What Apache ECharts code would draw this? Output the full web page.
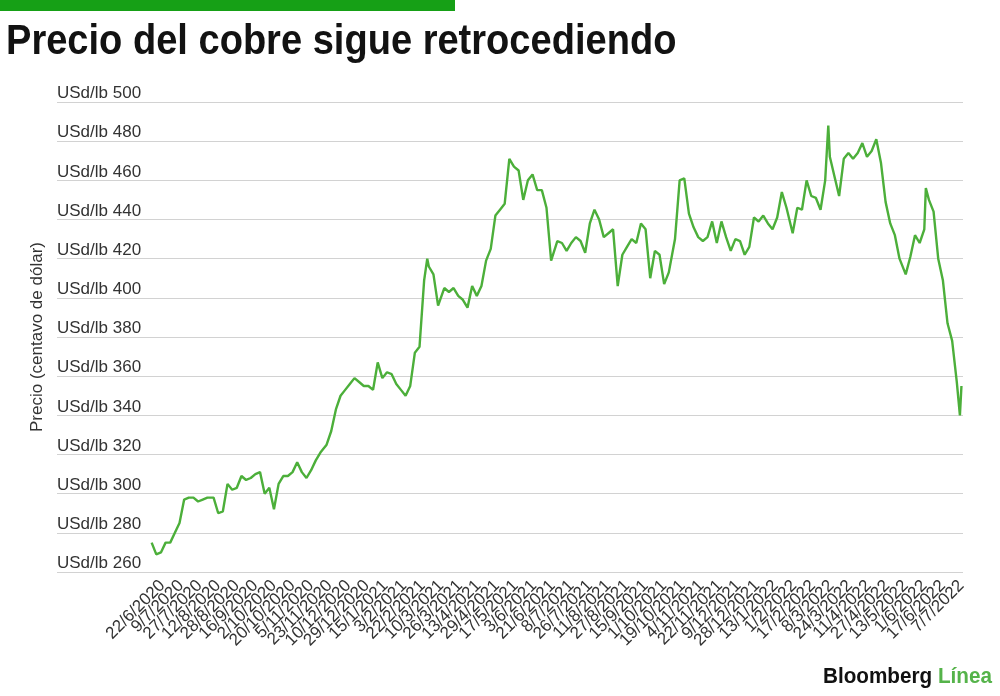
<!DOCTYPE html>
<html>
<head>
<meta charset="utf-8">
<script src="https://cdn.jsdelivr.net/npm/echarts@6/dist/echarts.min.js"></script>
<style>
html,body{margin:0;padding:0;background:#fff;}
#chart{width:1000px;height:696px;}
</style>
</head>
<body>
<div id="chart"></div>
<script>
const FONT = '"Liberation Sans", Arial, sans-serif';

const titleText = 'Precio del cobre sigue retrocediendo';
const yAxisTitle = 'Precio (centavo de dólar)';
const yLabelPrefix = 'USd/lb ';

// x-axis tick labels (one every 12 trading days, first at trading day 0)
const dateLabels = [
  '22/6/2020','9/7/2020','27/7/2020','12/8/2020','28/8/2020','16/9/2020','2/10/2020','20/10/2020',
  '5/11/2020','23/11/2020','10/12/2020','29/12/2020','15/1/2021','3/2/2021','22/2/2021','10/3/2021',
  '26/3/2021','13/4/2021','29/4/2021','17/5/2021','3/6/2021','21/6/2021','8/7/2021','26/7/2021',
  '11/8/2021','27/8/2021','15/9/2021','1/10/2021','19/10/2021','4/11/2021','22/11/2021','9/12/2021',
  '28/12/2021','13/1/2022','1/2/2022','17/2/2022','8/3/2022','24/3/2022','11/4/2022','27/4/2022',
  '13/5/2022','1/6/2022','17/6/2022','7/7/2022'
];

// Copper price (US cents / lb), read about every 3 trading days from day -7 to day 516
const prices = [
  275,269,270,275,275,280,285,297,298,298,296,297,298,298,290,291,305,302,303,309,
  307,308,310,311,300,303,292,305,309,309,311,316,311,308,312,317,321,325,332,343,
  350,353,356,359,357,355,355,353,367,359,362,361,356,353,350,355,372,375,409,416,
  412,396,405,403,405,401,399,395,406,401,406,419,425,442,445,448,471,467,465,450,
  460,463,455,455,446,419,429,428,424,428,431,429,423,438,445,440,431,433,435,406,
  422,426,430,428,438,435,410,424,422,407,413,430,460,461,443,436,431,429,431,439,
  428,439,431,424,430,429,422,426,441,439,442,438,435,441,454,446,433,446,445,460,
  452,451,445,460,472,462,452,471,474,471,474,479,472,475,481,469,449,438,432,420,
  412,421,432,428,435,450,444,420,409,387,378,357,355
];
const firstDay = -7;
const lastDay = 516;

// short-lived extremes between the regular readings
const spikeDays = [171, 430, 493, 515];
const spikePrices = [420, 488, 456, 340];

const yTicks = {min: 260, max: 500, step: 20};

const points = prices.map((p, i) => [Math.round(firstDay + i * (lastDay - firstDay) / (prices.length - 1)), p]);
spikeDays.forEach((d, k) => points.push([d, spikePrices[k]]));
points.sort((a, b) => a[0] - b[0]);

const chart = echarts.init(document.getElementById('chart'), null, {renderer: 'canvas'});

const option = {
  animation: false,
  backgroundColor: '#ffffff',
  textStyle: {fontFamily: FONT},
  graphic: [
    {type: 'rect', left: 0, top: 0, shape: {width: 455, height: 11}, style: {fill: '#16a016'}},
    {type: 'text', x: 6, y: 42, scaleX: 0.885,
      style: {text: titleText, font: 'bold 43px ' + FONT, fill: '#121212', verticalAlign: 'middle'}},
    {type: 'text', x: 823, y: 677, scaleX: 0.94,
      style: {
        text: '{b|Bloomberg} {l|Línea}',
        verticalAlign: 'middle',
        rich: {
          b: {font: 'bold 22px ' + FONT, fill: '#111111'},
          l: {font: 'bold 22px ' + FONT, fill: '#55b34a'}
        },
        font: 'bold 22px ' + FONT
      }}
  ],
  grid: [
    {left: 57, right: 37, top: 102, bottom: 124},
    {left: 51, right: 37, top: 102, bottom: 124}
  ],
  xAxis: [
    {gridIndex: 0, type: 'value', min: 0, max: 1, show: false},
    {
      gridIndex: 1, type: 'value', min: -72, max: 517, interval: 12,
      axisLine: {show: false}, axisTick: {show: false}, splitLine: {show: false},
      axisLabel: {
        rotate: 45, fontSize: 17, color: '#333', margin: 11, hideOverlap: false,
        fontFamily: FONT,
        formatter: function (v) {
          if (v < 0 || v % 12 !== 0) return '';
          const k = v / 12;
          return dateLabels[k] || '';
        }
      }
    }
  ],
  yAxis: [
    {
      gridIndex: 0, type: 'value', min: yTicks.min, max: yTicks.max, interval: yTicks.step,
      axisLine: {show: false}, axisTick: {show: false},
      splitLine: {show: true, lineStyle: {color: '#d2d2d2', width: 1}},
      axisLabel: {
        inside: true, margin: 0, verticalAlign: 'bottom', fontSize: 17, color: '#333',
        fontFamily: FONT,
        formatter: function (v) { return yLabelPrefix + v; }
      },
      name: yAxisTitle, nameLocation: 'middle', nameGap: 5,
      nameTextStyle: {fontSize: 17, color: '#333', fontFamily: FONT}
    },
    {gridIndex: 1, type: 'value', min: yTicks.min, max: yTicks.max, show: false}
  ],
  series: [{
    type: 'line', xAxisIndex: 1, yAxisIndex: 1, data: points,
    symbol: 'none', showSymbol: false, smooth: false,
    lineStyle: {color: '#4caf3a', width: 2.4},
    z: 3
  }]
};
chart.setOption(option);
</script>
</body>
</html>
